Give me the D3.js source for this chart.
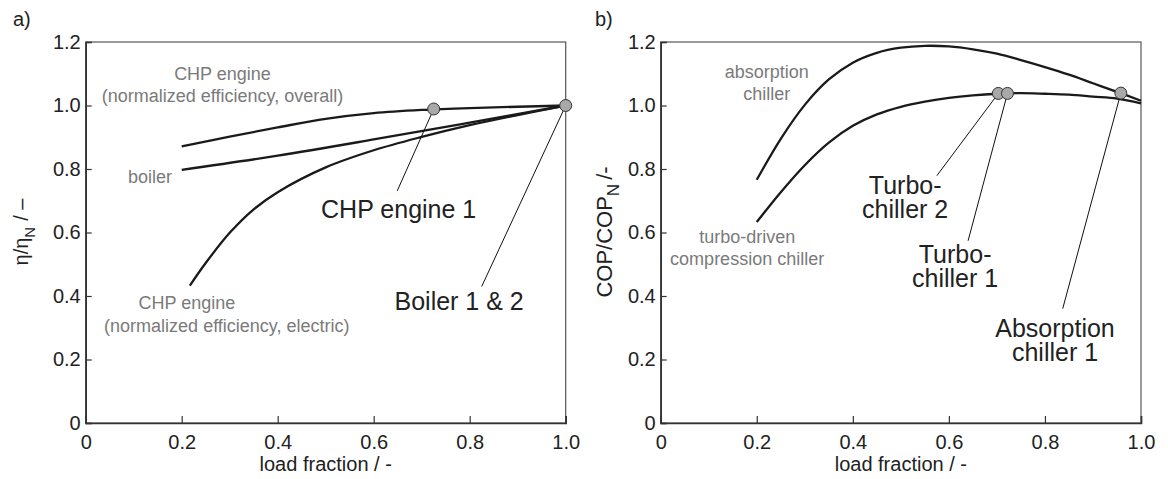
<!DOCTYPE html>
<html>
<head>
<meta charset="utf-8">
<script src="https://cdn.jsdelivr.net/npm/d3@7"></script>
<style>
body { margin: 0; background: #fff; }
svg { display: block; font-family: "Liberation Sans", Arial, sans-serif; }
</style>
</head>
<body>
<svg id="main"></svg>
<script>
const width = 1168;
const height = 479;

// ticks
const xTicks = [0, 0.2, 0.4, 0.6, 0.8, 1.0];
const yTicks = [0, 0.2, 0.4, 0.6, 0.8, 1.0, 1.2];

// panel a) : normalized efficiency over load fraction
const chpOverallLoad = [0.2, 0.3, 0.4, 0.5, 0.6, 0.7, 0.8, 0.9, 1.0];
const chpOverallEff = [0.871, 0.902, 0.931, 0.958, 0.976, 0.986, 0.992, 0.996, 1.0];
const boilerLoad = [0.2, 0.4, 0.6, 0.8, 1.0];
const boilerEff = [0.797, 0.842, 0.893, 0.946, 1.0];
const chpElecLoad = [0.217, 0.25, 0.3, 0.35, 0.4, 0.5, 0.6, 0.7, 0.8, 0.9, 1.0];
const chpElecEff = [0.433, 0.504, 0.599, 0.673, 0.727, 0.805, 0.859, 0.901, 0.938, 0.97, 1.0];
const leftPointLoad = [0.725, 1.0];
const leftPointEff = [0.989, 1.0];

// panel b) : normalized COP over load fraction
const chillerLoad = [0.2, 0.25, 0.3, 0.35, 0.4, 0.45, 0.5, 0.55, 0.6, 0.65, 0.7, 0.75, 0.8, 0.85, 0.9, 0.95, 1.0];
const absorptionCop = [0.766, 0.895, 1.002, 1.082, 1.135, 1.166, 1.182, 1.188, 1.186, 1.177, 1.163, 1.143, 1.121, 1.097, 1.07, 1.043, 1.015];
const turboCop = [0.633, 0.727, 0.812, 0.883, 0.936, 0.972, 0.996, 1.012, 1.024, 1.032, 1.037, 1.039, 1.037, 1.034, 1.028, 1.022, 1.007];
const rightPointLoad = [0.703, 0.722, 0.958];
const rightPointCop = [1.038, 1.038, 1.039];

const svg = d3.select('#main').attr('width', width).attr('height', height);

const fmt = d => (d === 0 ? '0' : d.toFixed(1));

function drawPanel(p) {
    const g = svg.append('g');
    const x = d3.scaleLinear().domain([0, 1]).range([p.left, p.right]);
    const y = d3.scaleLinear().domain([0, 1.2]).range([p.bottom, p.top]);

    // frame
    g.append('rect')
        .attr('x', p.left).attr('y', p.top)
        .attr('width', p.right - p.left).attr('height', p.bottom - p.top)
        .attr('fill', 'none').attr('stroke', '#555').attr('stroke-width', 1.2);

    // axes, ticks pointing inwards
    const xAxis = d3.axisBottom(x).tickValues(xTicks).tickSize(-7).tickPadding(12).tickFormat(fmt);
    const yAxis = d3.axisLeft(y).tickValues(yTicks).tickSize(-6).tickPadding(5).tickFormat(fmt);
    const gx = g.append('g').attr('transform', `translate(0,${p.bottom})`).call(xAxis);
    const gy = g.append('g').attr('transform', `translate(${p.left},0)`).call(yAxis);
    [gx, gy].forEach(a => {
        a.attr('font-family', null).attr('font-size', 20);
        a.select('.domain').attr('stroke', '#333').attr('stroke-width', 1.6);
        a.selectAll('.tick line').attr('stroke', '#333').attr('stroke-width', 1.2);
        a.selectAll('.tick text').attr('fill', '#222');
    });

    // x title
    g.append('text')
        .attr('x', (p.left + p.right) / 2).attr('y', 471)
        .attr('text-anchor', 'middle').attr('font-size', 20).attr('fill', '#222')
        .text('load fraction / -');

    // panel letter
    g.append('text')
        .attr('x', p.letterX).attr('y', 26)
        .attr('font-size', 20).attr('fill', '#222')
        .text(p.letter);

    // curves
    const line = d3.line()
        .x(d => x(d[0]))
        .y(d => y(d[1]))
        .curve(d3.curveCatmullRom.alpha(0.5));
    p.curves.forEach(c => {
        g.append('path')
            .datum(d3.zip(c[0], c[1]))
            .attr('d', line)
            .attr('fill', 'none')
            .attr('stroke', '#1a1a1a')
            .attr('stroke-width', 2.3);
    });

    // callout leader lines
    p.callouts.forEach(c => {
        g.append('line')
            .attr('x1', x(c.at[0])).attr('y1', y(c.at[1]))
            .attr('x2', x(c.end[0])).attr('y2', y(c.end[1]))
            .attr('stroke', '#111').attr('stroke-width', 1);
    });

    // operating points
    g.selectAll('circle.pt')
        .data(d3.zip(p.points[0], p.points[1]))
        .join('circle')
        .attr('class', 'pt')
        .attr('cx', d => x(d[0]))
        .attr('cy', d => y(d[1]))
        .attr('r', 6)
        .attr('fill', '#a8a8a8')
        .attr('stroke', '#333')
        .attr('stroke-width', 1);

    // callout labels (black, large)
    p.callouts.forEach(c => {
        const t = g.append('text')
            .attr('text-anchor', 'middle').attr('font-size', 25).attr('fill', '#222');
        c.lines.forEach((s, i) => {
            t.append('tspan')
                .attr('x', x(c.pos[0]))
                .attr('y', y(c.pos[1]) + i * 24)
                .text(s);
        });
    });

    // curve names (gray)
    p.names.forEach(n => {
        const t = g.append('text')
            .attr('text-anchor', n.anchor || 'middle').attr('font-size', 18).attr('fill', '#7a7a7a');
        n.lines.forEach((s, i) => {
            t.append('tspan')
                .attr('x', x(n.pos[0]))
                .attr('y', y(n.pos[1]) + i * 22)
                .text(s);
        });
    });

    return { x, y };
}

drawPanel({
    left: 85.7, right: 565.7, top: 42, bottom: 423,
    letter: 'a)', letterX: 13,
    curves: [[chpOverallLoad, chpOverallEff], [boilerLoad, boilerEff], [chpElecLoad, chpElecEff]],
    points: [leftPointLoad, leftPointEff],
    callouts: [
        { lines: ['CHP engine 1'], at: [0.725, 0.989], end: [0.649, 0.731], pos: [0.652, 0.646] },
        { lines: ['Boiler 1 & 2'], at: [1.0, 1.0], end: [0.825, 0.43], pos: [0.778, 0.355] }
    ],
    names: [
        { lines: ['CHP engine', '(normalized efficiency, overall)'], pos: [0.285, 1.081] },
        { lines: ['boiler'], pos: [0.18, 0.757], anchor: 'end' },
        { lines: ['CHP engine'], pos: [0.211, 0.36] },
        { lines: ['(normalized efficiency, electric)'], pos: [0.294, 0.286] }
    ]
});

drawPanel({
    left: 660.7, right: 1141, top: 42, bottom: 423,
    letter: 'b)', letterX: 595,
    curves: [[chillerLoad, absorptionCop], [chillerLoad, turboCop]],
    points: [rightPointLoad, rightPointCop],
    callouts: [
        { lines: ['Turbo-', 'chiller 2'], at: [0.703, 1.038], end: [0.575, 0.779], pos: [0.509, 0.722] },
        { lines: ['Turbo-', 'chiller 1'], at: [0.722, 1.038], end: [0.64, 0.574], pos: [0.613, 0.505] },
        { lines: ['Absorption', 'chiller 1'], at: [0.958, 1.039], end: [0.837, 0.36], pos: [0.821, 0.27] }
    ],
    names: [
        { lines: ['absorption', 'chiller'], pos: [0.221, 1.087] },
        { lines: ['turbo-driven', 'compression chiller'], pos: [0.18, 0.566] }
    ]
});

// y titles (rotated, with subscript N)
const yTitleA = svg.append('text')
    .attr('transform', 'translate(28,232) rotate(-90)')
    .attr('text-anchor', 'middle').attr('font-size', 20).attr('fill', '#222');
yTitleA.append('tspan').text('η/η');
yTitleA.append('tspan').attr('font-size', 15).attr('dy', 7).text('N');
yTitleA.append('tspan').attr('dy', -7).attr('dx', 6).text('/ –');

const yTitleB = svg.append('text')
    .attr('transform', 'translate(612,232) rotate(-90)')
    .attr('text-anchor', 'middle').attr('font-size', 22).attr('fill', '#222');
yTitleB.append('tspan').text('COP/COP');
yTitleB.append('tspan').attr('font-size', 17).attr('dy', 7).text('N');
yTitleB.append('tspan').attr('dy', -7).attr('dx', 4).text('/-');
</script>
</body>
</html>
